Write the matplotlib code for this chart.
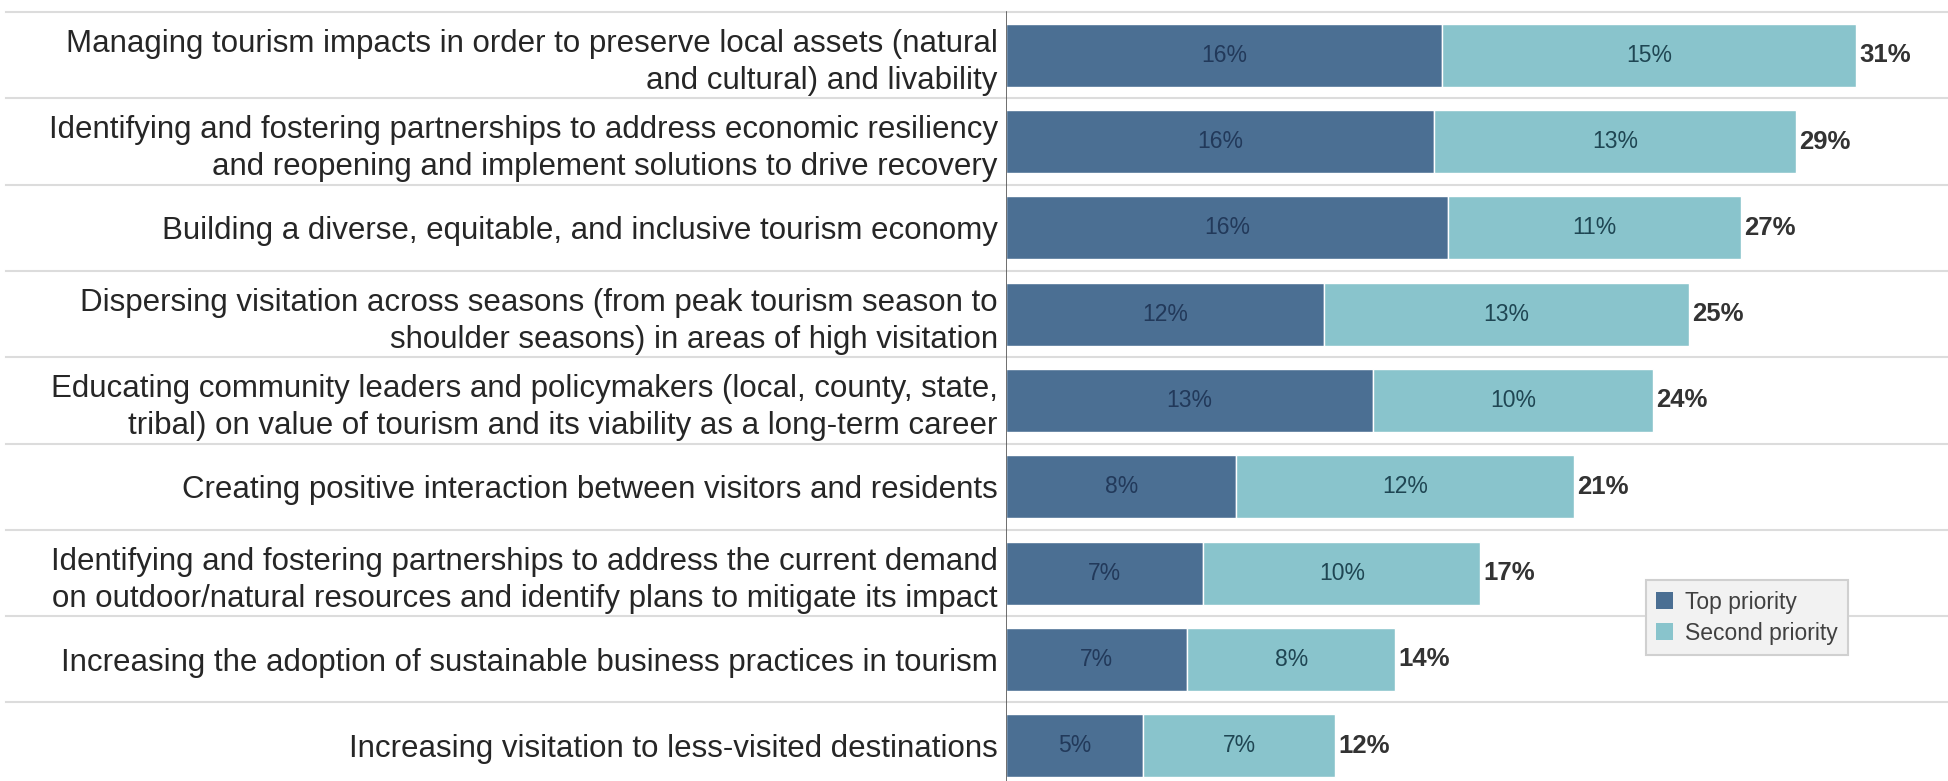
import matplotlib.pyplot as plt
import matplotlib.transforms as mtransforms
from matplotlib.patches import Patch

categories = [
    'Managing tourism impacts in order to preserve local assets (natural\nand cultural) and livability',
    'Identifying and fostering partnerships to address economic resiliency\nand reopening and implement solutions to drive recovery',
    'Building a diverse, equitable, and inclusive tourism economy',
    'Dispersing visitation across seasons (from peak tourism season to\nshoulder seasons) in areas of high visitation',
    'Educating community leaders and policymakers (local, county, state,\ntribal) on value of tourism and its viability as a long-term career',
    'Creating positive interaction between visitors and residents',
    'Identifying and fostering partnerships to address the current demand\non outdoor/natural resources and identify plans to mitigate its impact',
    'Increasing the adoption of sustainable business practices in tourism',
    'Increasing visitation to less-visited destinations',
]
top_priority = [15.9, 15.6, 16.1, 11.6, 13.4, 8.4, 7.2, 6.6, 5.0]
second_priority = [15.1, 13.2, 10.7, 13.3, 10.2, 12.3, 10.1, 7.6, 7.0]
series_names = ['Top priority', 'Second priority']

DARK = '#4b6f93'
LIGHT = '#89c4cc'

plt.rcParams['font.family'] = ['Liberation Sans', 'DejaVu Sans']

fig = plt.figure(figsize=(19.48, 7.81), dpi=100)
ax = fig.add_axes([1006 / 1948, 0, 1 - 1006 / 1948, 1])

y = list(range(len(categories)))
totals = [a + b for a, b in zip(top_priority, second_priority)]

ax.barh(y, top_priority, height=0.73, color=DARK, edgecolor='white', linewidth=1)
ax.barh(y, second_priority, left=top_priority, height=0.73, color=LIGHT,
        edgecolor='white', linewidth=1)

for i, (a, b, t) in enumerate(zip(top_priority, second_priority, totals)):
    ax.text(a / 2, i, f'{a:.0f}%', ha='center', va='center', fontsize=16.5, color='#22395a')
    ax.text(a + b / 2, i, f'{b:.0f}%', ha='center', va='center', fontsize=16.5, color='#1f4653')
    ax.text(t + 0.12, i, f'{t:.0f}%', ha='left', va='center', fontsize=18.5,
            fontweight='bold', color='#333333')

ax.set_xlim(0, 34.35)
ax.set_ylim(8.41, -0.64)

# row separators across the whole figure width
trans = mtransforms.blended_transform_factory(fig.transFigure, ax.transData)
for k in range(len(categories)):
    ax.plot([0.003, 1.0], [k - 0.5, k - 0.5], color='#dcdcdc', lw=1.5,
            transform=trans, clip_on=False, zorder=0)

ax.axvline(0, ymin=0, ymax=0.9845, color='#555555', lw=1.2)

for s in ax.spines.values():
    s.set_visible(False)
ax.set_xticks([])
ax.set_yticks(y)
ax.set_yticklabels(categories, fontsize=22.5, color='#262626', linespacing=1.32)
ax.tick_params(axis='y', length=0, pad=6)

handles = [Patch(facecolor=DARK, label=series_names[0]),
           Patch(facecolor=LIGHT, label=series_names[1])]
leg = ax.legend(handles=handles, loc='upper left', bbox_to_anchor=(0.679, 0.257),
                borderaxespad=0, fontsize=16.5, frameon=True, fancybox=False,
                handlelength=0.75, handleheight=0.75, handletextpad=0.5,
                labelspacing=0.35, borderpad=0.45)
leg.get_frame().set_facecolor('#f2f2f2')
leg.get_frame().set_edgecolor('#d0d0d0')
leg.get_frame().set_linewidth(1.5)
leg.get_frame().set_alpha(1)
for txt in leg.get_texts():
    txt.set_color('#404040')

fig.savefig('out.png', dpi=100)
